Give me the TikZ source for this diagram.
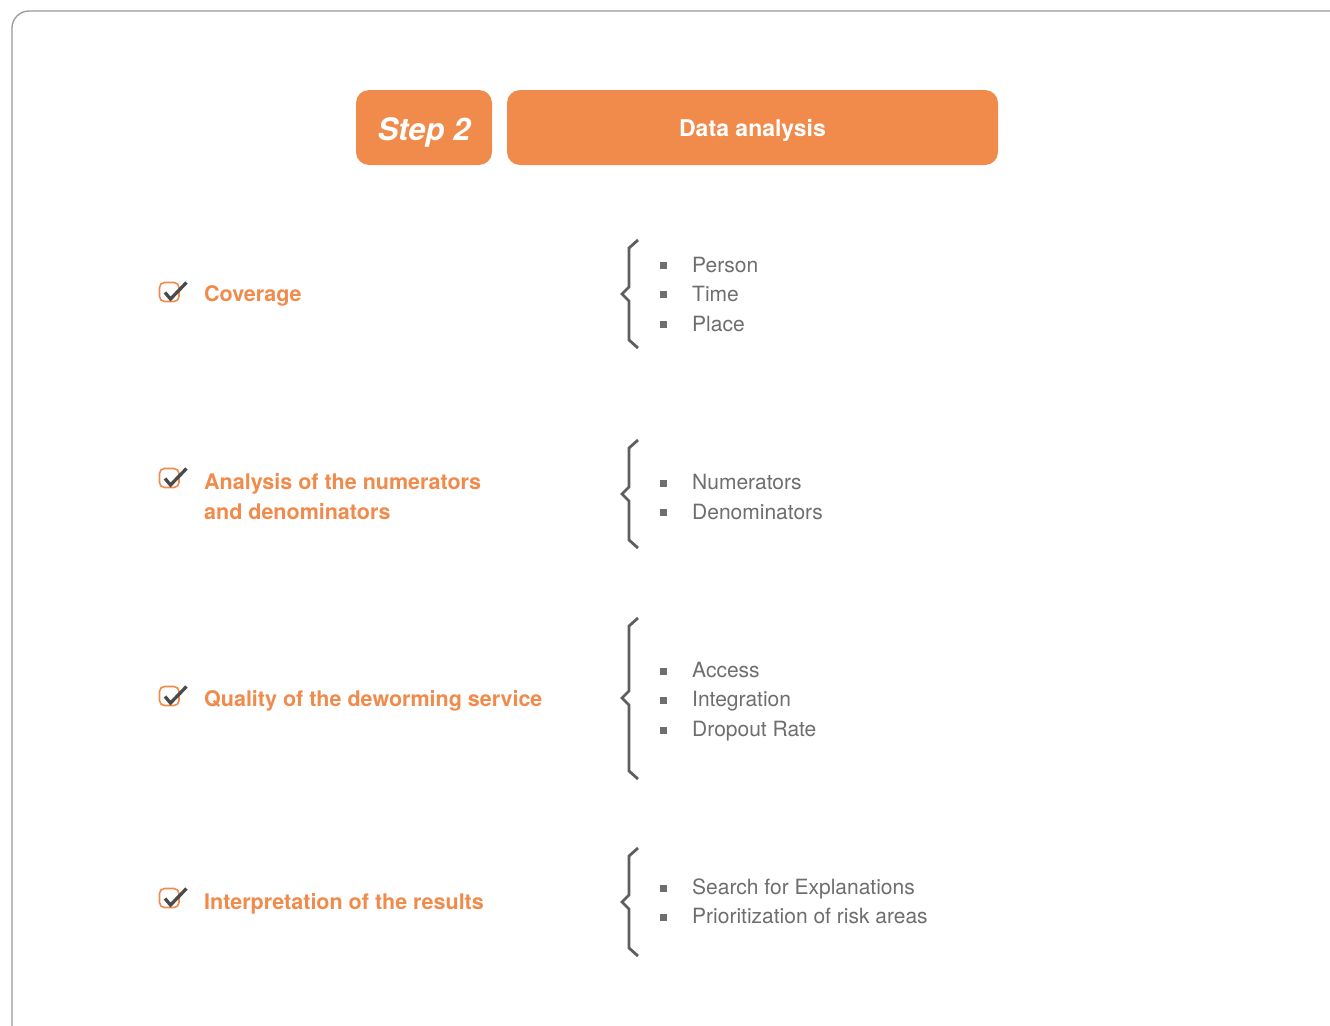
\documentclass[tikz,border=0pt]{standalone}
\usepackage{fontspec}
\setmainfont{TeX Gyre Heros}
\usepackage{xcolor}
\usepackage{tikz}
\usetikzlibrary{positioning}

\definecolor{steporange}{HTML}{F08B4B}
\definecolor{itemgray}{HTML}{6E6E6E}
\definecolor{bracegray}{HTML}{5E5E5E}
\definecolor{tickgray}{HTML}{4A4A4A}
\definecolor{framegray}{HTML}{9A9A9A}

\tikzset{
  header/.style={fill=steporange, rounded corners=13pt, text=white, text depth=0pt},
  topic/.style={anchor=base west, text=steporange, inner sep=0pt,
    font=\fontsize{21.5}{29.5}\selectfont\bfseries},
  item/.style={anchor=base west, text=itemgray, inner sep=0pt,
    font=\fontsize{21}{29.5}\selectfont},
  bracket/.style={draw=bracegray, line width=2.8pt, line join=miter},
  tickbox/.style={draw=steporange, line width=1.6pt, rounded corners=5pt},
  tick/.style={draw=tickgray, line width=3.3pt},
  bullet/.style={fill=itemgray}
}

\begin{document}
\begin{tikzpicture}[x=1pt,y=-1pt]
    \clip (0,0) rectangle (1330,1025);
    \fill[white] (0,0) rectangle (1330,1025);
    % outer frame, runs off the page to the right and bottom
    \draw[framegray, line width=1.3pt, rounded corners=17pt] (12,1060) -- (12,11) -- (1360,11);

    % title bar
    \node[header, minimum width=136, minimum height=75, text height=26pt,
      font=\fontsize{31}{36}\selectfont\bfseries\itshape] (step) at (424,127.5) {Step 2};
    \node[header, minimum width=491, minimum height=75, text height=18.4pt,
      font=\fontsize{23}{28}\selectfont\bfseries] (title) at (752.5,127.5) {Data analysis};

    % coverage
    \draw[tickbox] (159.5,282.5) rectangle (179,301.5);
    \draw[tick] (165,292.5) -- (170.5,299) -- (186.5,282.5);
    \node[topic] (cov) at (204,301) {Coverage};
    \draw[bracket] (638,240) -- (629,248) -- (629,287) -- (622,294) -- (629,301) -- (629,340) -- (638,348);
    \fill[bullet] (660,262) rectangle (666.5,268.5);
    \fill[bullet] (660,291) rectangle (666.5,297.5);
    \fill[bullet] (660,321) rectangle (666.5,327.5);
    \node[item] (person) at (692,272.5) {Person};
    \node[item] (time) at (692,301.5) {Time};
    \node[item] (place) at (692,331.5) {Place};

    % numerators and denominators
    \draw[tickbox] (159.5,468.5) rectangle (179,487.5);
    \draw[tick] (165,478.5) -- (170.5,485) -- (186.5,468.5);
    \node[topic] (anl) at (204,489.5) {Analysis of the numerators};
    \node[topic] (anlb) at (204,519) {and denominators};
    \draw[bracket] (638,440) -- (629,448) -- (629,487) -- (622,494) -- (629,501) -- (629,540) -- (638,548);
    \fill[bullet] (660,480) rectangle (666.5,486.5);
    \fill[bullet] (660,509) rectangle (666.5,515.5);
    \node[item] (num) at (692,489.5) {Numerators};
    \node[item] (den) at (692,519) {Denominators};

    % deworming service
    \draw[tickbox] (159.5,686.5) rectangle (179,705.5);
    \draw[tick] (165,696.5) -- (170.5,703) -- (186.5,686.5);
    \node[topic] (qual) at (204,706) {Quality of the deworming service};
    \draw[bracket] (638,618) -- (629,626) -- (629,691) -- (622,698) -- (629,705) -- (629,771) -- (638,779);
    \fill[bullet] (660,668) rectangle (666.5,674.5);
    \fill[bullet] (660,697) rectangle (666.5,703.5);
    \fill[bullet] (660,727) rectangle (666.5,733.5);
    \node[item] (access) at (692,677.5) {Access};
    \node[item] (integ) at (692,706.5) {Integration};
    \node[item] (drop) at (692,736.5) {Dropout Rate};

    % results
    \draw[tickbox] (159.5,888.5) rectangle (179,907.5);
    \draw[tick] (165,898.5) -- (170.5,905) -- (186.5,888.5);
    \node[topic] (interp) at (204,909) {Interpretation of the results};
    \draw[bracket] (638,848) -- (629,856) -- (629,895) -- (622,902) -- (629,909) -- (629,948) -- (638,956);
    \fill[bullet] (660,885) rectangle (666.5,891.5);
    \fill[bullet] (660,914) rectangle (666.5,920.5);
    \node[item] (search) at (692,894.5) {Search for Explanations};
    \node[item] (prior) at (692,923.5) {Prioritization of risk areas};
\end{tikzpicture}
\end{document}
